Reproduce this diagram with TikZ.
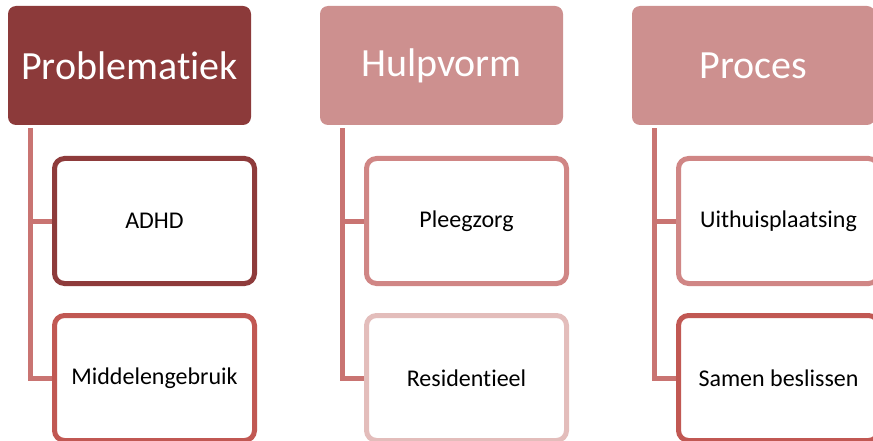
\documentclass[tikz,border=0pt]{standalone}
\usepackage{fontspec}
\setmainfont{Carlito}[Ligatures={NoCommon}]
\definecolor{hdrdark}{HTML}{8C3A3A}
\definecolor{hdrlight}{HTML}{CD908F}
\definecolor{bdrdark}{HTML}{8E3B3B}
\definecolor{bdrred}{HTML}{C15853}
\definecolor{bdrpink}{HTML}{D08685}
\definecolor{bdrpale}{HTML}{E3BDBB}
\definecolor{linkpink}{HTML}{C97472}
\begin{document}
\begin{tikzpicture}[
    x=1pt, y=-1pt,
    header/.style={rectangle, fill=#1, text=white, minimum width=243pt, minimum height=119pt, rounded corners=8pt, inner sep=0pt, font=\fontsize{40}{48}\selectfont},
    item/.style={rectangle, draw=#1, fill=white, line width=5pt, minimum width=200pt, minimum height=125pt, rounded corners=10pt, inner sep=0pt, font=\fontsize{24}{29}\selectfont},
    link/.style={draw=linkpink, line width=5pt}
]
\useasboundingbox (0,0) rectangle (873,441);

% Headers
\node[header=hdrdark] (probl) at (129.5,65.5) {Problematiek};
\node[header=hdrlight] (hulp) at (441.5,65.5) {Hulpvorm};
\node[header=hdrlight] (proces) at (753.5,65.5) {Proces};

% Items under Problematiek
\node[item=bdrdark] (adhd) at (154.5,221) {ADHD};
\node[item=bdrred] (middel) at (154.5,378) {Middelengebruik};

% Items under Hulpvorm
\node[item=bdrpink] (pleeg) at (466.5,221) {Pleegzorg};
\node[item=bdrpale] (resid) at (466.5,378) {Residentieel};

% Items under Proces
\node[item=bdrpink] (uithuis) at (778.5,221) {Uithuisplaatsing};
\node[item=bdrred] (samen) at (778.5,378) {Samen beslissen};

% Connectors
\draw[link] ([xshift=22.5pt,yshift=-3pt]probl.south west) |- (adhd.west);
\draw[link] ([xshift=22.5pt,yshift=-3pt]probl.south west) |- (middel.west);
\draw[link] ([xshift=22.5pt,yshift=-3pt]hulp.south west) |- (pleeg.west);
\draw[link] ([xshift=22.5pt,yshift=-3pt]hulp.south west) |- (resid.west);
\draw[link] ([xshift=22.5pt,yshift=-3pt]proces.south west) |- (uithuis.west);
\draw[link] ([xshift=22.5pt,yshift=-3pt]proces.south west) |- (samen.west);

\end{tikzpicture}
\end{document}
